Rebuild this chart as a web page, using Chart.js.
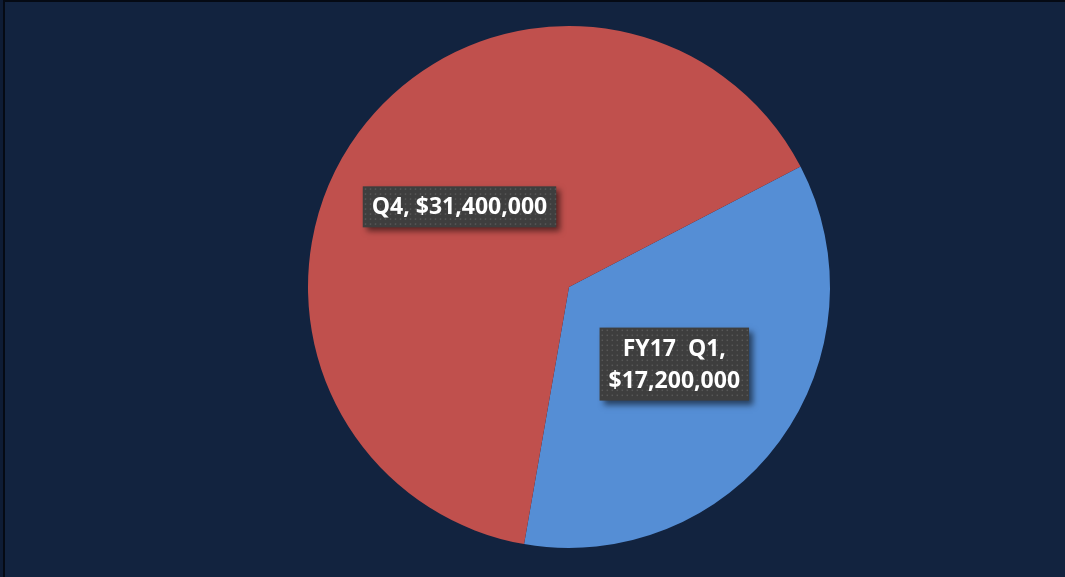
<!DOCTYPE html>
<html>
<head>
<meta charset="utf-8">
<script src="https://cdn.jsdelivr.net/npm/chart.js@4/dist/chart.umd.min.js"></script>
<style>
html,body{margin:0;padding:0;background:#12233f;}
#wrap{width:1065px;height:577px;position:relative;}
canvas{display:block;}
</style>
</head>
<body>
<div id="wrap"><canvas id="c" width="1065" height="577"></canvas></div>
<script>
const categories = ["FY17  Q1", "Q4"];
const values = [17200000, 31400000];
const colors = ["#558ed5", "#c0504d"];
const labelLines = [["FY17  Q1,", "$17,200,000"], ["Q4, $31,400,000"]];

const bgPlugin = {
  id: 'bg',
  beforeDraw(chart) {
    const ctx = chart.ctx;
    ctx.save();
    ctx.fillStyle = '#12233f';
    ctx.fillRect(0, 0, chart.width, chart.height);
    ctx.fillStyle = '#0e1c35';
    ctx.fillRect(0, 0, 4, chart.height);
    ctx.fillStyle = '#050a14';
    ctx.fillRect(3, 0, 2, chart.height);
    ctx.fillRect(3, 0, chart.width, 2);
    ctx.restore();
  }
};

const labelPlugin = {
  id: 'boxLabels',
  afterDatasetsDraw(chart) {
    const ctx = chart.ctx;
    const meta = chart.getDatasetMeta(0);
    const fontSize = 23;
    ctx.save();
    ctx.font = 'bold ' + fontSize + 'px "Open Sans", sans-serif';
    meta.data.forEach((arc, i) => {
      const lines = labelLines[i];
      const mid = (arc.startAngle + arc.endAngle) / 2;
      const r = arc.outerRadius * (i === 0 ? 0.5 : 0.52);
      const cx = arc.x + Math.cos(mid) * r;
      const cy = arc.y + Math.sin(mid) * r;
      const lh = 32;
      let w = 0;
      lines.forEach(l => { w = Math.max(w, ctx.measureText(l).width); });
      const padX = 9;
      const bw = w + padX * 2, bh = lines.length * lh + 9;
      const bx = cx - bw / 2, by = cy - bh / 2;
      ctx.save();
      ctx.shadowColor = 'rgba(0,0,0,0.55)';
      ctx.shadowBlur = 6;
      ctx.shadowOffsetX = 4;
      ctx.shadowOffsetY = 4;
      ctx.fillStyle = '#3e3e3e';
      ctx.fillRect(bx, by, bw, bh);
      ctx.restore();
      ctx.fillStyle = 'rgba(110,110,110,0.55)';
      for (let yy = by + 2; yy < by + bh - 1; yy += 5) {
        for (let xx = bx + 2; xx < bx + bw - 1; xx += 5) {
          ctx.fillRect(xx, yy, 1.5, 1.5);
        }
      }
      ctx.fillStyle = '#ffffff';
      ctx.textAlign = 'center';
      ctx.textBaseline = 'middle';
      lines.forEach((l, k) => {
        ctx.fillText(l, cx, by + 4.5 + lh * (k + 0.5) + 1);
      });
    });
    ctx.restore();
  }
};

new Chart(document.getElementById('c'), {
  type: 'pie',
  data: {
    labels: categories,
    datasets: [{
      data: values,
      backgroundColor: colors,
      borderWidth: 0
    }]
  },
  options: {
    responsive: false,
    animation: false,
    rotation: 62.5,
    layout: { padding: { left: 308, right: 235, top: 26, bottom: 29 } },
    plugins: { legend: { display: false }, tooltip: { enabled: false } }
  },
  plugins: [bgPlugin, labelPlugin]
});
</script>
</body>
</html>
